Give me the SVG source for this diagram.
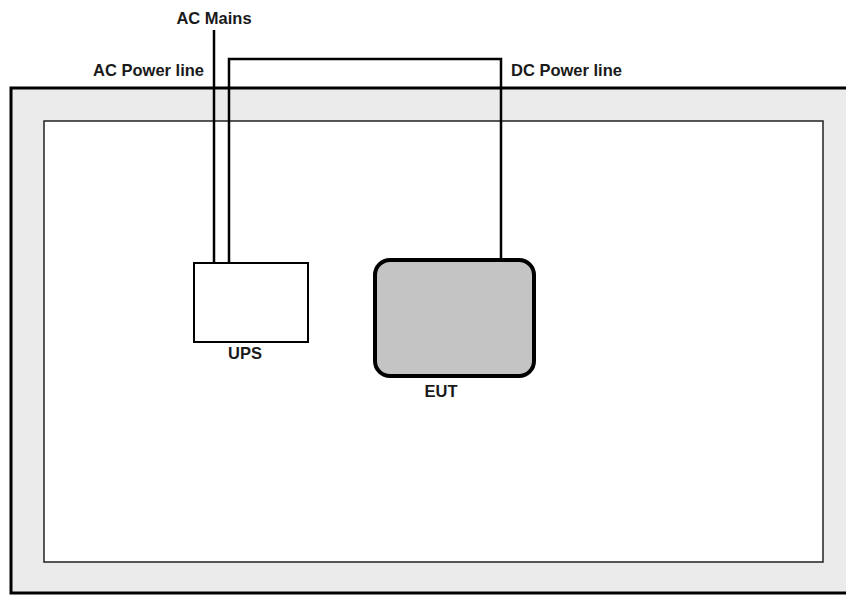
<svg xmlns="http://www.w3.org/2000/svg" width="846" height="595" viewBox="0 0 846 595">
<style>
text{font-family:"Liberation Sans",Arial,sans-serif;font-weight:bold;font-size:16.5px;fill:#1a1a1a}
.wire{fill:none;stroke:#000;stroke-width:2.5}
</style>
<rect width="846" height="595" fill="#fff"/>
<g id="room">
<rect x="11" y="88" width="840" height="505" fill="#ebebeb" stroke="#000" stroke-width="3"/>
<rect x="44" y="121" width="779" height="441" fill="#fff" stroke="#222" stroke-width="1.5"/>
</g>
<g id="connectors">
<line class="wire" x1="214" y1="30" x2="214" y2="263"/>
<polyline class="wire" points="229,263 229,59 501,59 501,260"/>
</g>
<g id="ups">
<rect x="194" y="263" width="114" height="79" fill="#fff" stroke="#000" stroke-width="2"/>
<text x="245" y="359" text-anchor="middle">UPS</text>
</g>
<g id="eut">
<rect x="375" y="260" width="159" height="116" rx="15" fill="#c4c4c4" stroke="#000" stroke-width="4"/>
<text x="441" y="397" text-anchor="middle">EUT</text>
</g>
<g id="labels">
<text x="214" y="24" text-anchor="middle">AC Mains</text>
<text x="204" y="76" text-anchor="end">AC Power line</text>
<text x="511" y="76">DC Power line</text>
</g>
</svg>
